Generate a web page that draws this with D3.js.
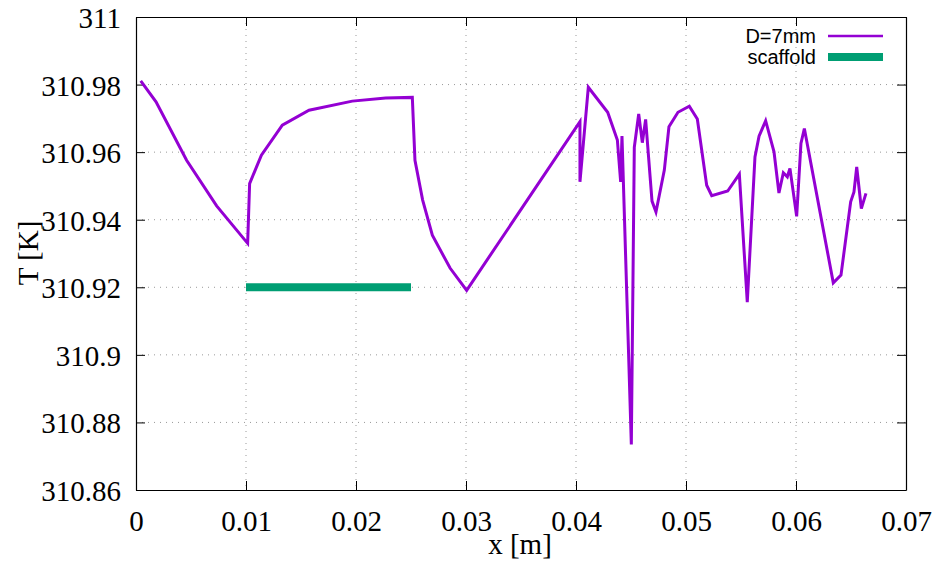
<!DOCTYPE html>
<html lang="en">
<head>
    <meta charset="UTF-8">
    <title>T along x</title>
    <script src="https://d3js.org/d3.v7.min.js"></script>
    <style>
        body {
            margin: 0;
            background: #fff;
        }
        svg text.serif {
            font-family: 'Liberation Serif', 'Times New Roman', Times, 'DejaVu Serif', serif;
            font-size: 29px;
        }
        svg text.sans {
            font-family: 'Liberation Sans', Arial, Helvetica, sans-serif;
            font-size: 20px;
        }
    </style>
</head>
<body>
    <div id="chart"></div>

    <script>
        // data: position x [m] and temperature T [K]
        const xVals = [0.00043, 0.00182, 0.0046, 0.00733, 0.01015, 0.01033, 0.0114, 0.0133, 0.01573, 0.01966,
            0.0227, 0.02512, 0.02536, 0.02606, 0.02694, 0.02855, 0.03006, 0.04036, 0.04036, 0.04112,
            0.04288, 0.04376, 0.04406, 0.04418, 0.04503, 0.0453, 0.0457, 0.04603, 0.04633, 0.04691,
            0.04727, 0.04803, 0.04845, 0.04927, 0.0503, 0.05103, 0.05188, 0.05234, 0.05379, 0.05485,
            0.05557, 0.05627, 0.05664, 0.05724, 0.058, 0.05845, 0.05885, 0.05921, 0.05945, 0.06006,
            0.06045, 0.06076, 0.06339, 0.06409, 0.06497, 0.06527, 0.06552, 0.06594, 0.06636];
        const tVals = [310.9811, 310.9749, 310.9576, 310.9441, 310.9330, 310.9507, 310.9591, 310.9680, 310.9724, 310.9751,
            310.9760, 310.9762, 310.9576, 310.9458, 310.9354, 310.9257, 310.9191, 310.9690, 310.9512, 310.9792,
            310.9718, 310.9636, 310.9512, 310.9648, 310.8735, 310.9614, 310.9713, 310.9628, 310.9697, 310.9455,
            310.9423, 310.9547, 310.9675, 310.9718, 310.9736, 310.9698, 310.9502, 310.9471, 310.9485, 310.9535,
            310.9156, 310.9586, 310.9647, 310.9693, 310.9601, 310.9479, 310.9539, 310.9527, 310.9552, 310.9410,
            310.9626, 310.9670, 310.9213, 310.9236, 310.9453, 310.9482, 310.9556, 310.9433, 310.9478];

        // scaffold marker
        const scaffoldX = [0.01, 0.025];
        const scaffoldT = [310.92, 310.92];

        const xTicks = [0, 0.01, 0.02, 0.03, 0.04, 0.05, 0.06, 0.07];
        const yTicks = [310.86, 310.88, 310.9, 310.92, 310.94, 310.96, 310.98, 311];
        const seriesNames = ['D=7mm', 'scaffold'];
        const seriesColors = ['#9400d3', '#009e73'];

        const width = 941;
        const height = 563;
        const margin = { top: 17, right: 35, bottom: 73, left: 136 };
        const w = width - margin.left - margin.right;
        const h = height - margin.top - margin.bottom;

        const svg = d3.select('#chart')
            .append('svg')
            .attr('width', width)
            .attr('height', height);

        const g = svg.append('g')
            .attr('transform', `translate(${margin.left},${margin.top})`);

        const x = d3.scaleLinear().domain([0, 0.07]).range([0, w]);
        const y = d3.scaleLinear().domain([310.86, 311]).range([h, 0]);

        // grid
        g.selectAll('.vgrid')
            .data(xTicks.slice(1, -1))
            .enter()
            .append('line')
            .attr('x1', d => x(d)).attr('x2', d => x(d))
            .attr('y1', 0).attr('y2', h)
            .attr('stroke', '#999')
            .attr('stroke-width', 1)
            .attr('stroke-dasharray', '1,5');

        g.selectAll('.hgrid')
            .data(yTicks.slice(1, -1))
            .enter()
            .append('line')
            .attr('x1', 0).attr('x2', w)
            .attr('y1', d => y(d)).attr('y2', d => y(d))
            .attr('stroke', '#999')
            .attr('stroke-width', 1)
            .attr('stroke-dasharray', '1,5');

        // axes (ticks pointing inwards, mirrored)
        const fmtX = d => d === 0 ? '0' : d3.format('.2f')(d);
        const fmtY = d => String(+d.toFixed(2));

        const xAxis = g.append('g')
            .attr('transform', `translate(0,${h})`)
            .call(d3.axisBottom(x).tickValues(xTicks).tickFormat(fmtX).tickSizeInner(-9).tickSizeOuter(0).tickPadding(20));
        const xAxisTop = g.append('g')
            .call(d3.axisTop(x).tickValues(xTicks).tickFormat('').tickSizeInner(-9).tickSizeOuter(0));
        const yAxis = g.append('g')
            .call(d3.axisLeft(y).tickValues(yTicks).tickFormat(fmtY).tickSizeInner(-9).tickSizeOuter(0).tickPadding(15));
        const yAxisRight = g.append('g')
            .attr('transform', `translate(${w},0)`)
            .call(d3.axisRight(y).tickValues(yTicks).tickFormat('').tickSizeInner(-9).tickSizeOuter(0));

        [xAxis, xAxisTop, yAxis, yAxisRight].forEach(a => {
            a.attr('font-family', null).attr('font-size', null);
            a.select('.domain').attr('stroke', '#000').attr('stroke-width', 1.2);
            a.selectAll('.tick line').attr('stroke', '#000');
            a.selectAll('text')
                .attr('class', 'serif')
                .attr('fill', '#000');
        });
        yAxis.selectAll('text').attr('dy', '0.36em');

        // scaffold bar
        const line = d3.line().x(d => x(d[0])).y(d => y(d[1]));
        g.append('path')
            .datum(scaffoldX.map((d, i) => [d, scaffoldT[i]]))
            .attr('fill', 'none')
            .attr('stroke', seriesColors[1])
            .attr('stroke-width', 8)
            .attr('d', line);

        // temperature line
        g.append('path')
            .datum(xVals.map((d, i) => [d, tVals[i]]))
            .attr('fill', 'none')
            .attr('stroke', seriesColors[0])
            .attr('stroke-width', 3)
            .attr('d', line);

        // axis titles
        svg.append('text')
            .attr('class', 'serif')
            .attr('x', margin.left + w / 2 - 1)
            .attr('y', 554)
            .attr('text-anchor', 'middle')
            .text('x [m]');

        svg.append('text')
            .attr('class', 'serif')
            .attr('transform', 'translate(38,253) rotate(-90)')
            .attr('text-anchor', 'middle')
            .text('T [K]');

        // legend
        const legend = svg.selectAll('.legend')
            .data(seriesNames)
            .enter()
            .append('g')
            .attr('class', 'legend')
            .attr('transform', (d, i) => `translate(0,${36 + i * 21})`);

        legend.append('text')
            .attr('class', 'sans')
            .attr('x', 816)
            .attr('y', 0)
            .attr('dy', '0.35em')
            .attr('text-anchor', 'end')
            .text(d => d);

        legend.append('line')
            .attr('x1', 828).attr('x2', 883)
            .attr('y1', 0).attr('y2', 0)
            .attr('stroke', (d, i) => seriesColors[i])
            .attr('stroke-width', (d, i) => i === 0 ? 2.5 : 8);
    </script>
</body>
</html>
